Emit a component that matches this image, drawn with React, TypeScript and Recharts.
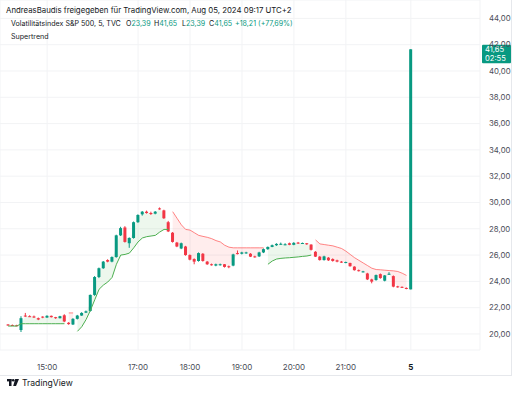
import { ComposedChart, Bar, Line, Area, XAxis, YAxis, CartesianGrid, ReferenceLine } from 'recharts'

// 5-minute candles, Friday afternoon session + first bar of Aug 5
const opens = [
  20.72, 20.68, 20.66, 20.3, 21.4, 21.35, 21.33, 21.2, 21.32, 21.25,
  21.38, 21.28, 21.2, 21.42, 20.85, 20.72, 21.15, 21.4, 21.62, 21.75,
  22.97, 24.33, 25.0, 25.62, 25.5, 25.85, 27.5, 28.1, 26.9, 27.3,
  28.5, 29.1, 29.3, 29.2, 29.15, 29.55, 29.4, 28.5, 27.7, 26.95,
  26.5, 26.65, 26.0, 25.7, 25.55, 26.1, 25.5, 25.3, 25.2, 25.25,
  25.3, 25.15, 25.2, 26.15, 26.1, 26.15, 26.1, 25.9, 25.9, 26.2,
  26.45, 26.62, 26.75, 26.85, 26.8, 26.9, 26.78, 26.95, 26.9, 26.9,
  26.8, 26.25, 25.88, 25.62, 25.8, 25.7, 25.6, 25.5, 25.42, 25.4,
  25.12, 24.85, 24.72, 24.6, 24.15, 24.1, 24.55, 24.05, 24.55, 24.4,
  23.62, 23.58, 23.5, 23.39,
]
const highs = [
  20.75, 20.72, 20.7, 21.35, 21.6, 21.42, 21.4, 21.25, 21.34, 21.42,
  21.4, 21.3, 21.38, 21.5, 20.9, 21.2, 21.45, 21.65, 21.78, 23.0,
  24.4, 25.05, 25.55, 25.68, 25.9, 27.55, 28.15, 28.2, 27.35, 28.55,
  29.1, 29.35, 29.38, 29.3, 29.35, 29.62, 29.45, 28.6, 27.75, 27.0,
  26.95, 26.7, 26.05, 25.75, 26.2, 26.15, 25.55, 25.35, 25.35, 25.35,
  25.32, 25.2, 26.1, 26.35, 26.25, 26.25, 26.15, 25.95, 26.25, 26.5,
  26.65, 26.8, 26.9, 26.95, 26.9, 26.95, 26.98, 27.0, 26.95, 26.92,
  26.82, 26.3, 25.92, 25.95, 25.85, 25.75, 25.65, 25.55, 25.5, 25.42,
  25.15, 24.9, 24.8, 24.65, 24.2, 24.52, 24.6, 24.48, 24.7, 24.45,
  23.66, 23.62, 23.54, 41.65,
]
const lows = [
  20.62, 20.64, 20.6, 20.15, 21.3, 21.3, 21.22, 21.05, 21.2, 21.22,
  21.25, 21.15, 21.18, 20.9, 20.7, 20.68, 21.1, 21.38, 21.6, 21.7,
  22.9, 24.25, 24.95, 25.45, 25.45, 25.8, 27.45, 26.95, 26.55, 27.25,
  28.45, 29.0, 29.15, 29.05, 29.1, 29.45, 28.75, 27.75, 26.95, 26.6,
  26.45, 25.95, 25.6, 25.3, 25.5, 25.5, 25.25, 25.2, 25.15, 25.2,
  25.05, 25.0, 25.15, 26.05, 26.05, 26.1, 25.85, 25.8, 25.85, 26.15,
  26.4, 26.6, 26.7, 26.78, 26.75, 26.75, 26.75, 26.85, 26.85, 26.78,
  26.35, 25.85, 25.58, 25.58, 25.55, 25.5, 25.45, 25.4, 25.38, 25.12,
  24.82, 24.75, 24.68, 24.1, 23.85, 24.05, 24.2, 24.0, 24.5, 23.55,
  23.52, 23.5, 23.4, 23.39,
]
const closes = [
  20.68, 20.66, 20.64, 21.2, 21.38, 21.34, 21.25, 21.1, 21.25, 21.38,
  21.28, 21.2, 21.35, 20.95, 20.75, 21.15, 21.4, 21.6, 21.72, 22.97,
  24.33, 25.0, 25.5, 25.5, 25.85, 27.5, 28.05, 27.0, 27.3, 28.5,
  29.05, 29.3, 29.2, 29.15, 29.3, 29.5, 28.8, 27.8, 27.0, 26.65,
  26.9, 26.0, 25.65, 25.5, 26.15, 25.55, 25.3, 25.25, 25.3, 25.3,
  25.1, 25.1, 26.05, 26.1, 26.2, 26.2, 25.88, 25.85, 26.2, 26.45,
  26.62, 26.75, 26.85, 26.86, 26.82, 26.78, 26.93, 26.9, 26.92, 26.82,
  26.4, 25.88, 25.62, 25.9, 25.6, 25.55, 25.5, 25.45, 25.47, 25.15,
  24.85, 24.8, 24.76, 24.15, 23.98, 24.48, 24.25, 24.45, 24.58, 23.6,
  23.58, 23.55, 23.42, 41.65,
]

// Supertrend lines (null = not active)
const upTrend = [
  20.6, 20.6, 20.6, 20.78, 20.78, 20.78, 20.78, 20.78, 20.78, 20.78,
  20.78, 20.78, 20.78, 20.78, null, null, 20.2, 20.55, 21.1, 21.8,
  22.6, 23.4, 23.72, 23.95, 24.3, 25.3, 26.0, 26.05, 26.15, 26.55,
  27.0, 27.3, 27.4, 27.45, 27.5, 27.75, 27.95, 27.95, null, null,
  null, null, null, null, null, null, null, null, null, null,
  null, null, null, null, null, null, null, null, null, null,
  25.3, 25.55, 25.7, 25.75, 25.78, 25.8, 25.83, 25.86, 25.9, 25.93,
  26.0, null, null, null, null, null, null, null, null, null,
  null, null, null, null, null, null, null, null, null, null,
  null, null, null, null,
]
const downTrend = [
  null, null, null, null, null, null, null, null, null, null,
  null, null, null, null, 21.6, 21.6, null, null, null, null,
  null, null, null, null, null, null, null, null, null, null,
  null, null, null, null, null, null, null, null, 29.3, 28.8,
  28.3, 27.95, 27.9, 27.7, 27.5, 27.42, 27.35, 27.25, 27.1, 27.0,
  26.75, 26.6, 26.55, 26.55, 26.55, 26.55, 26.55, 26.55, 26.55, 26.55,
  null, null, null, null, null, null, null, null, null, null,
  null, 27.15, 26.85, 26.8, 26.75, 26.7, 26.6, 26.5, 26.3, 26.05,
  25.8, 25.6, 25.4, 25.2, 25.0, 24.9, 24.88, 24.85, 24.82, 24.8,
  24.75, 24.62, 24.45, null,
]

const tickIndex = [9, 30, 42, 54, 66, 78, 93]
const tickLabels = ['15:00', '17:00', '18:00', '19:00', '20:00', '21:00', '5']
const priceTicks = [20, 22, 24, 26, 28, 30, 32, 34, 36, 38, 40, 42, 44]
const lastPrice = 41.65
const countdown = '02:55'

const COLORS = {
  up: '#089981',
  down: '#f23645',
  stUp: '#4caf50',
  stDown: '#ff5252',
  grid: '#f2f3f5',
  text: '#131722',
}

const FONT = 'Inter, Roboto, "Noto Sans", sans-serif'

const rows = opens.map((o, i) => {
  const c = closes[i]
  const mid = (o + c) / 2
  const up = upTrend[i]
  const down = downTrend[i]
  return {
    i,
    o,
    c,
    h: highs[i],
    l: lows[i],
    range: [lows[i], highs[i]],
    up,
    down,
    upFill: up == null ? null : [up, mid],
    downFill: down == null ? null : [mid, down],
  }
})

function Candle(props: any) {
  const { x, y, width, height, payload } = props
  if (!payload || height == null) return null
  const { o, c, h, l } = payload
  const ratio = height / (h - l)
  const cx = x + width / 2
  const top = y + (h - Math.max(o, c)) * ratio
  const bottom = y + (h - Math.min(o, c)) * ratio
  const color = c >= o ? COLORS.up : COLORS.down
  const bodyH = Math.max(bottom - top, 1)
  return (
    <g>
      <line x1={cx} x2={cx} y1={y} y2={y + height} stroke={color} strokeWidth={1} />
      <rect x={cx - 1.5} y={top} width={3} height={bodyH} fill={color} />
    </g>
  )
}

function TimeTick(props: any) {
  const { x, y, payload } = props
  const idx = tickIndex.indexOf(payload.value)
  const label = tickLabels[idx]
  const bold = label === '5'
  return (
    <text x={x} y={y} dy="0.71em" textAnchor="middle" fontSize={8} fontFamily={FONT}
      fill={bold ? COLORS.text : '#4a4d57'} fontWeight={bold ? 700 : 400}>
      {label}
    </text>
  )
}

function PriceTag(props: any) {
  const vb = props.viewBox
  if (!vb) return null
  const left = vb.x + vb.width + 2
  return (
    <g>
      <rect x={left} y={vb.y - 4.5} width={29} height={18.5} fill={COLORS.up} rx={1} />
      <text x={left + 3} y={vb.y + 0.3} dy="0.355em" fontSize={7.6} fill="#fff" fontFamily={FONT}>
        {lastPrice.toFixed(2).replace('.', ',')}
      </text>
      <text x={left + 3} y={vb.y + 8.6} dy="0.355em" fontSize={7.6} fill="#fff" fontFamily={FONT}>
        {countdown}
      </text>
    </g>
  )
}

const headerStyle = { position: 'absolute' as const, fontSize: 7.8, color: COLORS.text, whiteSpace: 'nowrap' as const }
const legendStyle = { ...headerStyle, fontSize: 7.1 }

export default function App() {
  return (
    <div style={{ position: 'absolute', left: 0, top: 0, width: 520, height: 396, background: '#fff', fontFamily: FONT, overflow: 'hidden' }}>
      <ComposedChart width={512} height={375} data={rows} margin={{ top: 0, right: 0, bottom: 0, left: 0 }} barCategoryGap="0%">
        <CartesianGrid stroke={COLORS.grid} />
        <XAxis
          dataKey="i"
          type="category"
          ticks={tickIndex}
          interval={0}
          padding={{ left: 6, right: 67 }}
          height={25}
          axisLine={false}
          tickLine={false}
          tickMargin={8}
          tick={<TimeTick />}
        />
        <YAxis
          orientation="right"
          domain={[18.78, 45.4]}
          ticks={priceTicks}
          width={32}
          axisLine={false}
          tickLine={false}
          tickMargin={3}
          interval={0}
          tick={{ fontSize: 7.8, fill: '#4a4d57', fontFamily: FONT }}
          tickFormatter={(v: number) => v.toFixed(2).replace('.', ',')}
        />
        <Area dataKey="upFill" stroke="none" fill={COLORS.stUp} fillOpacity={0.1} dot={false} activeDot={false} isAnimationActive={false} connectNulls={false} />
        <Area dataKey="downFill" stroke="none" fill={COLORS.stDown} fillOpacity={0.1} dot={false} activeDot={false} isAnimationActive={false} connectNulls={false} />
        <Line dataKey="up" stroke={COLORS.stUp} strokeWidth={1} dot={false} activeDot={false} isAnimationActive={false} connectNulls={false} />
        <Line dataKey="down" stroke={COLORS.stDown} strokeOpacity={0.7} strokeWidth={1} dot={false} activeDot={false} isAnimationActive={false} connectNulls={false} />
        <Bar dataKey="range" shape={<Candle />} isAnimationActive={false} />
        <ReferenceLine y={lastPrice} stroke="none" label={<PriceTag />} />
      </ComposedChart>

      <div style={{ position: 'absolute', left: 511, top: 0, width: 1, height: 375, background: '#e6e8ec' }} />
      <div style={{ position: 'absolute', left: 0, top: 375, width: 512, height: 1, background: '#e6e8ec' }} />

      <div style={{ ...headerStyle, left: 6, top: 5 }}>
        AndreasBaudis freigegeben für TradingView.com, Aug 05, 2024 09:17 UTC+2
      </div>
      <div style={{ ...legendStyle, left: 11, top: 19 }}>Volatilitätsindex S&amp;P 500, 5, TVC</div>
      <div style={{ ...legendStyle, left: 126, top: 19 }}>O<span style={{ color: COLORS.up }}>23,39</span></div>
      <div style={{ ...legendStyle, left: 154, top: 19 }}>H<span style={{ color: COLORS.up }}>41,65</span></div>
      <div style={{ ...legendStyle, left: 182, top: 19 }}>L<span style={{ color: COLORS.up }}>23,39</span></div>
      <div style={{ ...legendStyle, left: 209, top: 19 }}>C<span style={{ color: COLORS.up }}>41,65</span></div>
      <div style={{ ...legendStyle, left: 235, top: 19, color: COLORS.up }}>+18,21 (+77,69%)</div>
      <div style={{ ...legendStyle, left: 11, top: 32 }}>Supertrend</div>

      <div style={{ position: 'absolute', left: 7, top: 378, display: 'flex', alignItems: 'center', gap: 3 }}>
        <svg width={12} height={8} viewBox="0 0 12 8">
          <rect x={0} y={0} width={4.5} height={2.4} fill={COLORS.text} />
          <rect x={2} y={0} width={2.5} height={7} fill={COLORS.text} />
          <circle cx={6.2} cy={1.3} r={1.3} fill={COLORS.text} />
          <path d="M8.2 0 L12 0 L9 7 L6.2 7 Z" fill={COLORS.text} />
        </svg>
        <span style={{ fontSize: 8.6, color: COLORS.text }}>TradingView</span>
      </div>
    </div>
  )
}
